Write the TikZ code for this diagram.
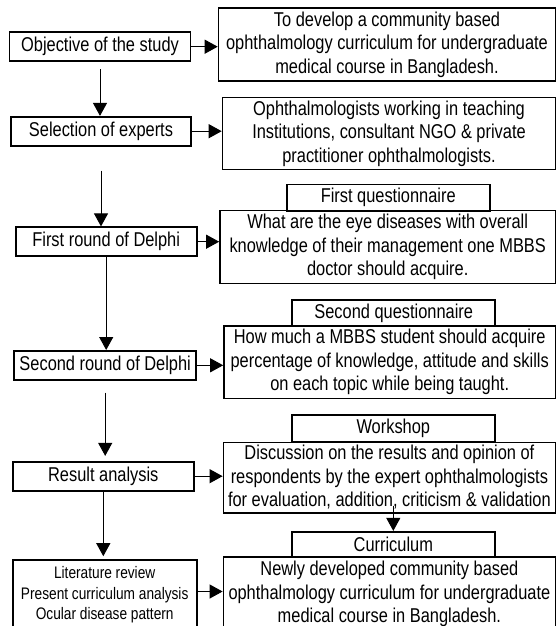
\documentclass[tikz,border=0pt]{standalone}
\usepackage{fontspec}
\setmainfont{Liberation Sans}[FakeStretch=0.82]
\usetikzlibrary{arrows.meta}

\begin{document}
\begin{tikzpicture}[x=1pt, y=-1pt,
  stage/.style={draw, line width=1.6pt, inner sep=0pt, font=\fontsize{20}{23.5}\selectfont},
  info/.style={draw, line width=1.6pt, inner sep=0pt, align=center, font=\fontsize{20}{23.5}\selectfont},
  qhead/.style={draw, line width=1.6pt, inner sep=0pt, minimum width=203pt, font=\fontsize{20}{23.5}\selectfont},
  flow/.style={line width=1pt, -{Triangle[length=13pt, width=14pt]}}]
\useasboundingbox (0,0) rectangle (557,626);
% left column
\node[stage, minimum width=181pt, minimum height=29pt] (obj) at (100,46.7) {Objective of the study};
\node[stage, minimum width=180pt, minimum height=29pt] (sel) at (101,131.2) {Selection of experts};
\node[stage, minimum width=181pt, minimum height=29pt] (fr) at (106.2,241.7) {First round of Delphi};
\node[stage, minimum width=182pt, minimum height=29pt] (sr) at (105.2,365.3) {Second round of Delphi};
\node[stage, minimum width=181pt, minimum height=29pt] (res) at (103.3,476.2) {Result analysis};
\node[stage, align=center, minimum width=184pt, minimum height=70pt, font=\fontsize{16.7}{20.5}\selectfont] (lit) at (104.7,595) {Literature review\\Present curriculum analysis\\Ocular disease pattern};
% right column
\node[info, minimum width=337pt, minimum height=73pt] (r1) at (387,44.7) {To develop a community based\\ophthalmology curriculum for undergraduate\\medical course in Bangladesh.};
\node[info, minimum width=333pt, minimum height=72pt] (r2) at (389,133.5) {Ophthalmologists working in teaching\\Institutions, consultant NGO \& private\\practitioner ophthalmologists.};
\node[qhead, minimum height=26.4pt] (q1) at (388.2,197.5) {First questionnaire};
\node[info, minimum width=335.5pt, minimum height=73pt] (r3) at (387.7,247.1) {What are the eye diseases with overall\\knowledge of their management one MBBS\\doctor should acquire.};
\node[qhead, minimum height=26pt] (q2) at (393.7,313) {Second questionnaire};
\node[info, minimum width=331.5pt, minimum height=72.3pt] (r4) at (389.7,362.2) {How much a MBBS student should acquire\\percentage of knowledge, attitude and skills\\on each topic while being taught.};
\node[qhead, minimum height=27.3pt] (q3) at (393.3,428.6) {Workshop};
\node[info, minimum width=332pt, minimum height=70.4pt] (r5) at (389.4,477.5) {Discussion on the results and opinion of\\respondents by the expert ophthalmologists\\for evaluation, addition, criticism \& validation};
\node[qhead, minimum height=25pt] (q4) at (393.3,544.2) {Curriculum};
\node[info, minimum width=332pt, minimum height=75pt] (r6) at (389.4,594.3) {Newly developed community based\\ophthalmology curriculum for undergraduate\\medical course in Bangladesh.};
\coordinate (litout) at ([yshift=3.5pt]lit.east);
% arrows
\draw[flow] (obj.east) -- (obj.east -| r1.west);
\draw[flow] (sel.east) -- (sel.east -| r2.west);
\draw[flow] (fr.east) -- (fr.east -| r3.west);
\draw[flow] (sr.east) -- (sr.east -| r4.west);
\draw[flow] (res.east) -- (res.east -| r5.west);
\draw[flow] (litout) -- (litout -| r6.west);
\draw[flow, shorten <=7pt] (obj.south) -- (obj.south |- sel.north);
\draw[flow, shorten <=24pt] (sel.south) -- (sel.south |- fr.north);
\draw[flow] (fr.south) -- (fr.south |- sr.north);
\draw[flow, shorten <=12pt, shorten >=5pt] (sr.south) -- (sr.south |- res.north);
\draw[flow, shorten >=3pt] (res.south) -- (res.south |- lit.north);
\draw[flow, shorten <=-8pt] (q4.north |- r5.south) -- (q4.north);
\end{tikzpicture}
\end{document}
